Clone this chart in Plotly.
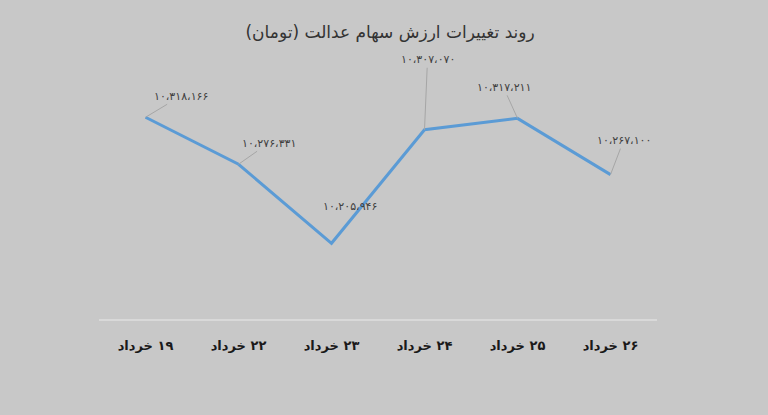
import plotly.graph_objects as go

categories = ["۱۹ خرداد", "۲۲ خرداد", "۲۳ خرداد", "۲۴ خرداد", "۲۵ خرداد", "۲۶ خرداد"]
values = [10318166, 10276331, 10205946, 10307070, 10317211, 10267100]
label_offsets = [(35, -21), (30, -21), (18, -37), (3, -70), (-14, -31), (13, -34)]
show_leader = [True, True, False, True, True, True]

RLM = "\u200F"
fa_digits = str.maketrans("0123456789", "۰۱۲۳۴۵۶۷۸۹")


def fa_number(v):
    return f"{v:,}".replace(",", "،").translate(fa_digits)


tick_text = [RLM + c for c in categories]

fig = go.Figure()
fig.add_trace(go.Scatter(
    x=categories, y=values, mode="lines",
    line=dict(color="#5b9bd5", width=3),
    hoverinfo="skip", showlegend=False,
))

for c, v, (ax, ay), lead in zip(categories, values, label_offsets, show_leader):
    fig.add_annotation(
        x=c, y=v, ax=ax, ay=ay, axref="pixel", ayref="pixel",
        text=fa_number(v), showarrow=True, arrowhead=0, arrowwidth=1,
        arrowcolor="#a6a6a6" if lead else "rgba(0,0,0,0)",
        font=dict(family="DejaVu Sans", size=11, color="#404040"),
        standoff=0, startstandoff=0,
    )

fig.update_layout(
    width=768, height=415,
    paper_bgcolor="#c8c8c8", plot_bgcolor="#c8c8c8",
    margin=dict(l=99, r=111, t=40, b=96),
    title=dict(
        text=RLM + "روند تغییرات ارزش سهام عدالت (تومان)" + RLM,
        x=0.508, xanchor="center", y=1 - 32 / 415, yanchor="middle", yref="container",
        font=dict(family="DejaVu Sans", size=17, color="#333333"),
    ),
    xaxis=dict(
        type="category", tickmode="array", tickvals=categories, ticktext=tick_text,
        range=[-0.5, len(categories) - 0.5],
        showline=True, linecolor="#d9d9d9", linewidth=1.5, showgrid=False,
        zeroline=False, ticks="", ticklabelstandoff=14,
        tickfont=dict(family="DejaVu Sans", size=13, color="#1a1a1a", weight="bold"),
    ),
    yaxis=dict(visible=False, range=[10138500, 10387000], showgrid=False, zeroline=False),
)

fig.write_html(
    "out.html",
    config={"displayModeBar": False},
    post_script="document.body.style.margin='0';document.body.style.overflow='hidden';",
)
